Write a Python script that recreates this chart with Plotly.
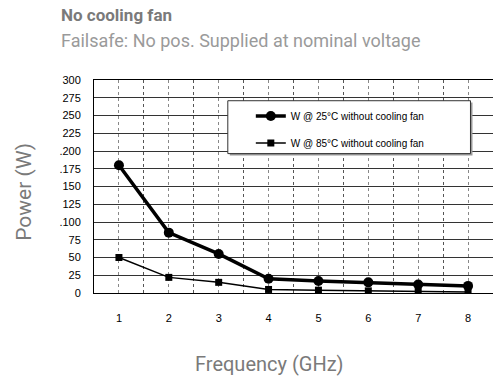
import plotly.graph_objects as go

freq = [1, 2, 3, 4, 5, 6, 7, 8]
w25 = [180, 85, 55, 20, 17, 15, 12, 10]
w85 = [50, 22, 15, 5, 4, 3, 2.5, 1.5]
name25 = "W @ 25°C without cooling fan"
name85 = "W @ 85°C without cooling fan"
ytick_vals = [0, 25, 50, 75, 100, 125, 150, 175, 200, 225, 250, 275, 300]
ytick_text = ["0", "25", "50", "75", ".100", "125", "150", ".175", ".200", "225", "250", "275", "300"]
xtick_vals = [1, 2, 3, 4, 5, 6, 7, 8]

W, H = 493, 379
L, T, R, B = 94.3, 80, 493, 292.7
pw, ph = R - L, B - T

def px(x):
    return (x - L) / pw

def py(y):
    return (B - y) / ph

tickfont = dict(family="Liberation Sans, Arial", size=11, color="#000")
legfont = dict(family="Liberation Sans Narrow, Arial Narrow, Liberation Sans", size=10, color="#000")

fig = go.Figure()
fig.add_trace(go.Scatter(x=freq, y=w25, name=name25, mode="lines+markers",
                         line=dict(color="#000", width=3.5),
                         marker=dict(symbol="circle", size=10, color="#000"),
                         legend="legend"))
fig.add_trace(go.Scatter(x=freq, y=w85, name=name85, mode="lines+markers",
                         line=dict(color="#000", width=1.5),
                         marker=dict(symbol="square", size=7, color="#000"),
                         legend="legend2"))

# legend box with shadow
fig.add_shape(type="rect", xref="paper", yref="paper",
              x0=px(230), x1=px(472.5), y0=py(155.5), y1=py(102.5),
              fillcolor="#999", line=dict(width=0), layer="above")
fig.add_shape(type="rect", xref="paper", yref="paper",
              x0=px(228), x1=px(470.5), y0=py(153.5), y1=py(100.7),
              fillcolor="#fff", line=dict(color="#333", width=1), layer="above")

fig.update_layout(
    width=W, height=H,
    margin=dict(l=L, r=W - R, t=T, b=H - B, pad=0, autoexpand=False),
    paper_bgcolor="#fff", plot_bgcolor="#fff",
    showlegend=True,
    legend=dict(x=px(251), y=py(116), xanchor="left", yanchor="middle",
                bgcolor="rgba(0,0,0,0)", font=legfont, itemwidth=30,
                borderwidth=0),
    legend2=dict(x=px(251), y=py(143), xanchor="left", yanchor="middle",
                 bgcolor="rgba(0,0,0,0)", font=legfont, itemwidth=30,
                 borderwidth=0),
    xaxis=dict(range=[0.5, 8.5], tickvals=xtick_vals, ticktext=[str(v) for v in xtick_vals],
               showgrid=True, gridcolor="#888", griddash="dot", gridwidth=1,
               minor=dict(tick0=0.5, dtick=1, showgrid=True, gridcolor="#555", gridwidth=1),
               showline=True, linecolor="#000", linewidth=1, mirror=True,
               ticks="", ticklabelstandoff=15, tickfont=tickfont, zeroline=False,
               automargin=False, fixedrange=True),
    yaxis=dict(range=[0, 300], tickvals=ytick_vals, ticktext=ytick_text,
               showgrid=True, gridcolor="#333", gridwidth=1,
               showline=True, linecolor="#000", linewidth=1, mirror=True,
               ticks="", ticklabelstandoff=10, tickfont=tickfont, zeroline=False,
               automargin=False, fixedrange=True),
    annotations=[
        dict(text="<b>No cooling fan</b>", xref="paper", yref="paper",
             x=px(59), y=py(15.5), xanchor="left", yanchor="middle", showarrow=False,
             font=dict(family="Roboto", size=17, color="#7a7a7a")),
        dict(text="Failsafe: No pos. Supplied at nominal voltage", xref="paper", yref="paper",
             x=px(59), y=py(41), xanchor="left", yanchor="middle", showarrow=False,
             font=dict(family="Roboto", size=18, color="#9a9a9a")),
        dict(text="Power (W)", xref="paper", yref="paper",
             x=px(25), y=py(192), xanchor="center", yanchor="middle", textangle=-90,
             showarrow=False, font=dict(family="Roboto", size=21, color="#7a7a7a")),
        dict(text="Frequency (GHz)", xref="paper", yref="paper",
             x=px(270), y=py(364), xanchor="center", yanchor="middle",
             showarrow=False, font=dict(family="Roboto", size=20, color="#7a7a7a")),
    ],
)

fig.write_html("out.html", config={"displayModeBar": False},
               post_script="document.body.style.margin='0';document.body.style.overflow='hidden';")
